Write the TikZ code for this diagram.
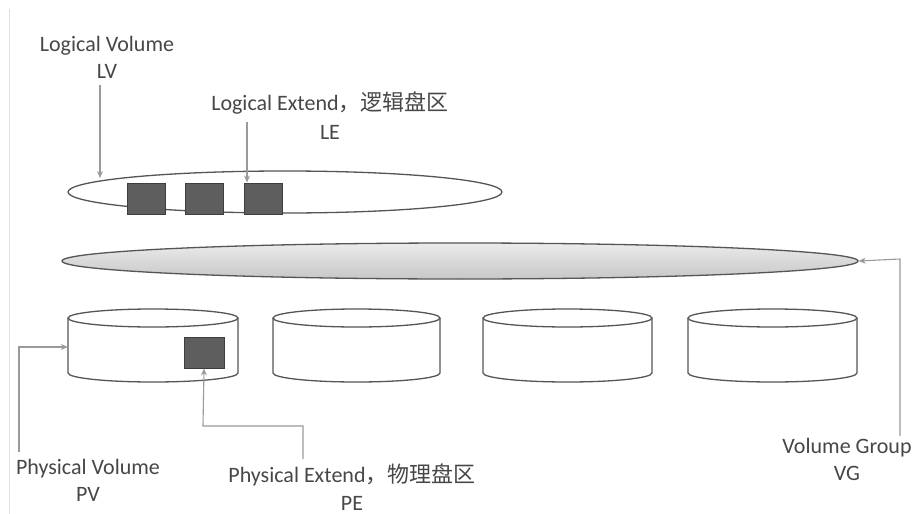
\documentclass[tikz,border=0pt]{standalone}
\usepackage{fontspec}
\setmainfont{Carlito}
\newfontfamily\cjk{Noto Sans CJK SC}
\usetikzlibrary{shapes.geometric,arrows.meta}
\definecolor{txt}{HTML}{474747}
\definecolor{conn}{HTML}{9A9A9A}
\definecolor{edge}{HTML}{555555}
\definecolor{blk}{HTML}{5E5E5E}
\definecolor{blkedge}{HTML}{3E3E3E}
\tikzset{
  lbl/.style={text=txt, align=center, font=\fontsize{22}{27}\selectfont, inner sep=0pt},
  conline/.style={draw=conn, line width=1.1pt},
  tip/.style={-{Stealth[length=7pt,width=6pt]}},
  extent/.style={draw=blkedge, fill=blk, line width=1pt, minimum width=38pt, minimum height=31pt, inner sep=0pt},
  cyl/.style={draw=edge, line width=1.3pt},
  holder/.style={draw=none, inner sep=0pt, minimum height=73pt},
}
\newcommand\drum[3]{%
  \node[holder, minimum width={(#3-#2)*1pt}] (#1) at ({(#2+#3)/2},345.5) {};
  \draw[cyl, fill=white] (#2,318) -- (#2,373) arc[start angle=180, end angle=0, x radius={(#3-#2)/2}, y radius=9] -- (#3,318);
  \draw[cyl, fill=white] ({(#2+#3)/2},318) ellipse[x radius={(#3-#2)/2}, y radius=9];
}
\begin{document}
\begin{tikzpicture}[x=1pt, y=-1pt]
\useasboundingbox (0,0) rectangle (916,514);
\fill[white] (0,0) rectangle (916,514);
\draw[draw=black!12, line width=0.8pt] (9,9) -- (9,514);

% Logical volume ellipse and extents
\node[ellipse, draw=edge, line width=1.3pt, fill=white, minimum width=434pt, minimum height=42pt, inner sep=0pt] (lv) at (285,192) {};
\node[extent] (le1) at (146,198.5) {};
\node[extent] (le2) at (204,198.5) {};
\node[extent] (le3) at (263,198.5) {};

% Volume group ellipse
\node[ellipse, draw=edge, line width=1.3pt, top color=black!8, bottom color=black!22, minimum width=796pt, minimum height=36pt, inner sep=0pt] (vg) at (460,261) {};

% Physical volumes
\drum{pv1}{68}{238}
\drum{pv2}{273}{440}
\drum{pv3}{483}{652}
\drum{pv4}{688}{857}
\node[extent, minimum width=40pt] (pe) at (204,352.5) {};

% Labels
\node[lbl] (lvlab) at (107,57) {Logical Volume\\LV};
\node[lbl, font=\fontsize{22}{29}\selectfont] (lelab) at (330,116) {Logical Extend{\cjk ，逻辑盘区}\\LE};
\node[lbl] (pvlab) at (88,480) {Physical Volume\\PV};
\node[lbl, font=\fontsize{22}{28}\selectfont] (pelab) at (352,487) {Physical Extend{\cjk ，物理盘区}\\PE};
\node[lbl] (vglab) at (847,459) {Volume Group\\VG};

% Connector end points
\coordinate (lvstart) at (100,85);
\coordinate (lvtop) at (100,178);
\coordinate (lestart) at (247,122);
\coordinate (pvstart) at (19,452);
\coordinate (pvbend) at (19,347);
\coordinate (pestart) at (303,459);
\coordinate (pebend1) at (303,426);
\coordinate (pebend2) at (203,426);
\coordinate (vgstart) at (900,436);
\coordinate (vgbend) at (900,259);

% Connectors
\draw[conline, tip] (lvstart) -- (lvtop);
\draw[conline, tip] (lestart) -- (le3.north west -| lestart);
\draw[conline, tip] (pvstart) -- (pvbend) -- (pv1.west |- pvbend);
\draw[conline, tip] (pestart) -- (pebend1) -- (pebend2) -- (pe.south);
\draw[conline, tip] (vgstart) -- (vgbend) -- (vg.east);
\end{tikzpicture}
\end{document}
